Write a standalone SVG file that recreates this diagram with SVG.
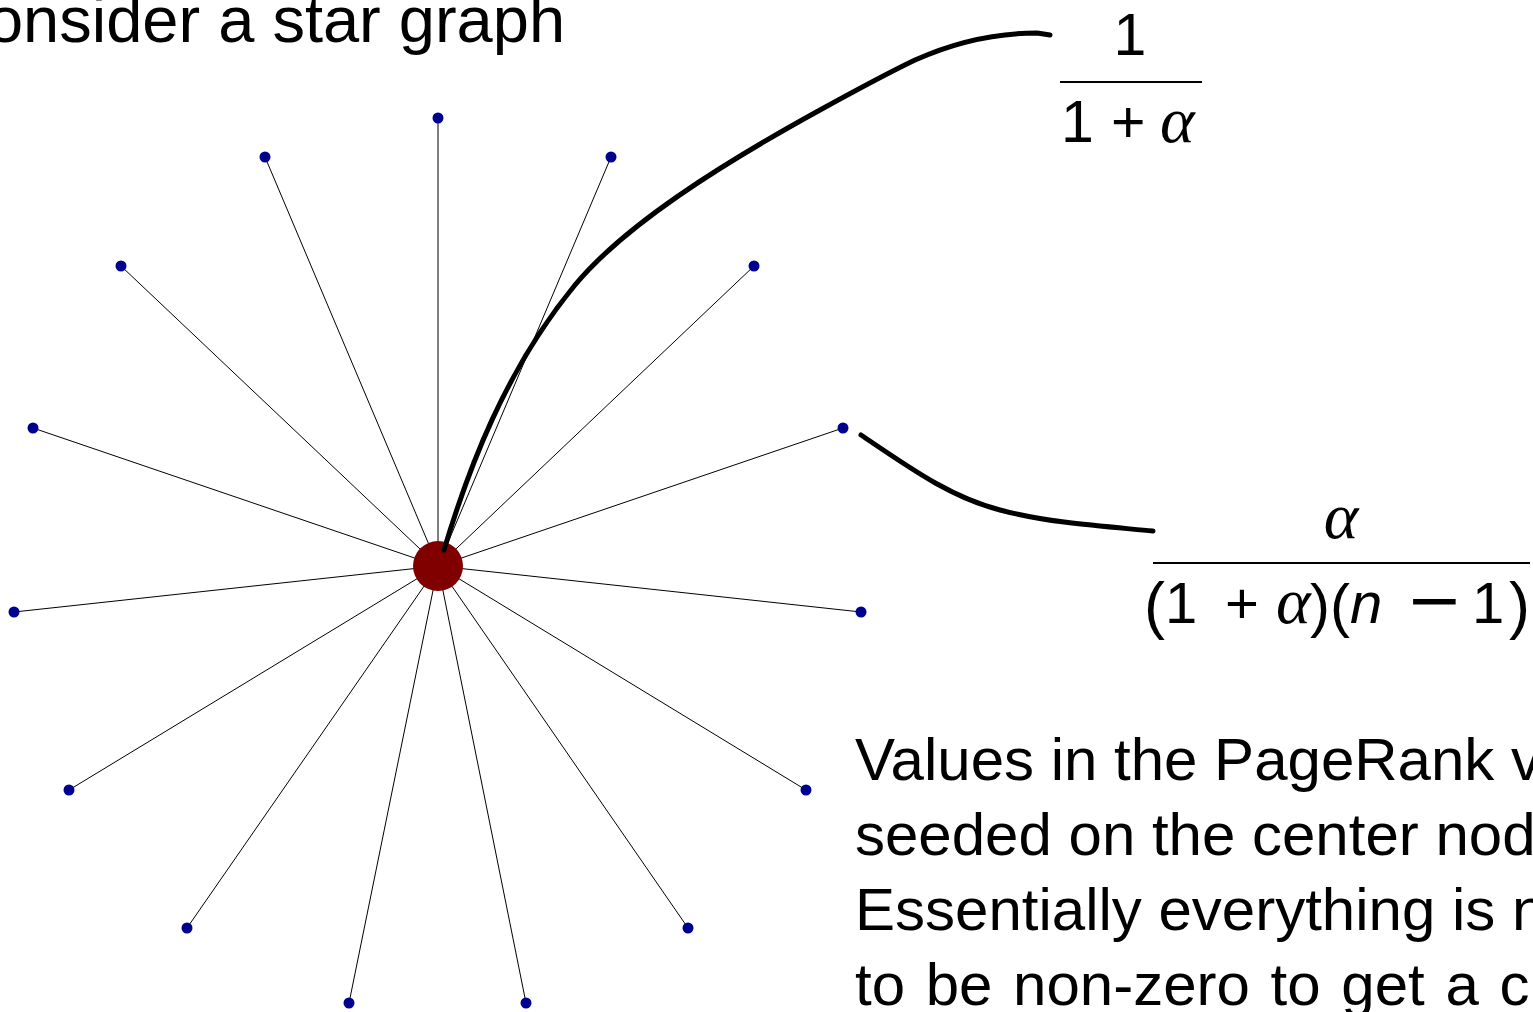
<svg xmlns="http://www.w3.org/2000/svg" width="1533" height="1012" viewBox="0 0 1533 1012">
<style>
.edge{stroke:#000;stroke-width:1;fill:none}
.note{stroke:#000;stroke-width:5;fill:none;stroke-linecap:round;stroke-linejoin:round}
.leaf{fill:#000090}
.hub{fill:#800000}
.txt{font-family:"Liberation Sans",Arial,sans-serif;fill:#000}
.sans{font-family:"Liberation Sans",Arial,sans-serif;fill:#000}
.greek{font-family:"Liberation Serif","Times New Roman",serif;font-style:italic}
.minus{font-family:"DejaVu Sans",sans-serif}
.frac{stroke:#000;stroke-width:2}
</style>
<rect width="1533" height="1012" fill="#fff"/>
<text class="txt" x="-60" y="42" font-size="65">Consider a star graph</text>
<g id="connectors">
<line class="edge" x1="438" y1="566" x2="438" y2="118"/>
<line class="edge" x1="438" y1="566" x2="611" y2="157"/>
<line class="edge" x1="438" y1="566" x2="754" y2="266"/>
<line class="edge" x1="438" y1="566" x2="843" y2="428"/>
<line class="edge" x1="438" y1="566" x2="861" y2="612"/>
<line class="edge" x1="438" y1="566" x2="806" y2="790"/>
<line class="edge" x1="438" y1="566" x2="688" y2="928"/>
<line class="edge" x1="438" y1="566" x2="526" y2="1003"/>
<line class="edge" x1="438" y1="566" x2="349" y2="1003"/>
<line class="edge" x1="438" y1="566" x2="187" y2="928"/>
<line class="edge" x1="438" y1="566" x2="69" y2="790"/>
<line class="edge" x1="438" y1="566" x2="14" y2="612"/>
<line class="edge" x1="438" y1="566" x2="33" y2="428"/>
<line class="edge" x1="438" y1="566" x2="121" y2="266"/>
<line class="edge" x1="438" y1="566" x2="265" y2="157"/>
</g>
<g id="hub"><circle class="hub" cx="438" cy="566" r="25"/></g>
<g id="n1"><circle class="leaf" cx="438" cy="118" r="5.5"/></g>
<g id="n2"><circle class="leaf" cx="611" cy="157" r="5.5"/></g>
<g id="n3"><circle class="leaf" cx="754" cy="266" r="5.5"/></g>
<g id="n4"><circle class="leaf" cx="843" cy="428" r="5.5"/></g>
<g id="n5"><circle class="leaf" cx="861" cy="612" r="5.5"/></g>
<g id="n6"><circle class="leaf" cx="806" cy="790" r="5.5"/></g>
<g id="n7"><circle class="leaf" cx="688" cy="928" r="5.5"/></g>
<g id="n8"><circle class="leaf" cx="526" cy="1003" r="5.5"/></g>
<g id="n9"><circle class="leaf" cx="349" cy="1003" r="5.5"/></g>
<g id="n10"><circle class="leaf" cx="187" cy="928" r="5.5"/></g>
<g id="n11"><circle class="leaf" cx="69" cy="790" r="5.5"/></g>
<g id="n12"><circle class="leaf" cx="14" cy="612" r="5.5"/></g>
<g id="n13"><circle class="leaf" cx="33" cy="428" r="5.5"/></g>
<g id="n14"><circle class="leaf" cx="121" cy="266" r="5.5"/></g>
<g id="n15"><circle class="leaf" cx="265" cy="157" r="5.5"/></g>
<g id="annotations">
<path class="note" d="M444 550 C468 470 505 370 575 285 C625 225 720 165 820 110 C860 88 890 72 915 60 C955 42 995 33 1037 33 L1050 35"/>
<path class="note" d="M861 435 C910 468 950 497 1000 510 S1100 526 1153 531"/>
</g>
<g id="formula1">
<text class="sans" x="1130" y="55" font-size="59" text-anchor="middle">1</text>
<line class="frac" x1="1060" y1="82" x2="1202" y2="82"/>
<text class="sans" y="142" font-size="59"><tspan x="1061">1</tspan><tspan x="1111">+</tspan><tspan class="greek" x="1160" font-size="66">α</tspan></text>
</g>
<g id="formula2">
<text class="greek" x="1341" y="538" font-size="66" text-anchor="middle">α</text>
<line class="frac" x1="1153" y1="563" x2="1530" y2="563"/>
<text class="sans" y="623" font-size="58"><tspan x="1144" font-size="63" dy="4">(</tspan><tspan x="1165" dy="-4">1</tspan><tspan x="1225">+</tspan><tspan class="greek" x="1276" font-size="66">α</tspan><tspan x="1310" font-size="60" dy="3">)(</tspan><tspan x="1350" font-style="italic" dy="-3">n</tspan><tspan class="minus" x="1406" font-size="68">−</tspan><tspan x="1472">1</tspan><tspan x="1509" font-size="63" dy="4">)</tspan></text>
</g>
<g id="caption" class="txt" font-size="60">
<text x="855" y="780">Values in the PageRank v</text>
<text x="855" y="855">seeded on the center nod</text>
<text x="855" y="930">Essentially everything is n</text>
<text x="855" y="1005" word-spacing="4">to be non-zero to get a c</text>
</g>
</svg>
